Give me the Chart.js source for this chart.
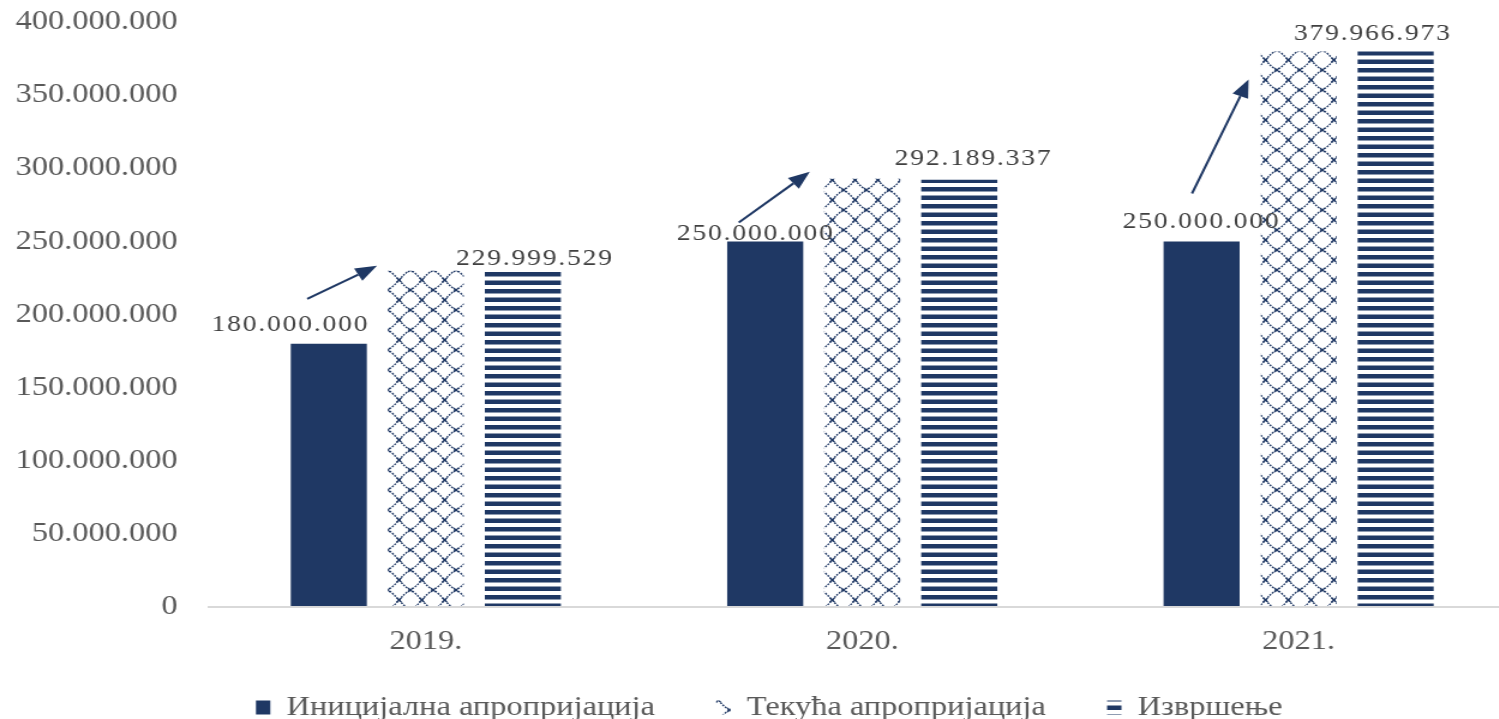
<!DOCTYPE html>
<html>
<head>
<meta charset="utf-8">
<script src="https://cdn.jsdelivr.net/npm/chart.js@4.4.1/dist/chart.umd.min.js"></script>
<style>
  html, body { margin: 0; padding: 0; background: #fff; overflow: hidden; }
  /* the source image is stretched sideways, so the whole chart is too */
  #wrap { position: absolute; left: 0; top: 0; width: 1264px; height: 719px; transform: scaleX(1.2); transform-origin: 0 0; }
</style>
</head>
<body>
<div id="wrap"><canvas id="c"></canvas></div>
<script>
// ---- data ----
const YEARS = ['2019.', '2020.', '2021.'];
const INITIAL = [180000000, 250000000, 250000000];     // Иницијална апропријација
const CURRENT = [230000000, 293000000, 380000000];     // Текућа апропријација
const EXECUTED = [229999529, 292189337, 379966973];    // Извршење
const SERIES = ['Иницијална апропријација', 'Текућа апропријација', 'Извршење'];
const Y_MAX = 400000000;
const Y_STEP = 50000000;

// hand placed bits (px, relative to the bars)
const LABEL_NUDGE_INIT = [[-32, -19], [-8, -8], [0, -20]];
const LABEL_NUDGE_EXEC = [[10, -12], [12, -21], [-19, -18]];
const ARROW_NUDGE = [[-18, -45, -9, -5], [-22, -19, -12, -7], [-8, -48, -10, 28]];

const NAVY = '#1f3864';
const GREY = '#595959';
const SERIF = '"Liberation Serif", "Times New Roman", serif';
const LEGEND_LIFT = 40;
const LEGEND_SHIFT = 9;

const fmt = v => String(v).replace(/\B(?=(\d{3})+(?!\d))/g, '.');

const ctx0 = document.getElementById('c').getContext('2d');

function crossPattern() {
  const w = 19, h = 20;
  const c = document.createElement('canvas');
  c.width = w; c.height = h;
  const x = c.getContext('2d');
  x.fillStyle = '#fff'; x.fillRect(0, 0, w, h);
  x.strokeStyle = NAVY; x.lineWidth = 1.4;
  x.setLineDash([1.8, 1.1]);
  x.beginPath();
  x.moveTo(w / 2, 0);
  x.quadraticCurveTo(w / 2 + 5, h / 2 - 3, w, h / 2);
  x.quadraticCurveTo(w / 2 + 5, h / 2 + 3, w / 2, h);
  x.quadraticCurveTo(w / 2 - 5, h / 2 + 3, 0, h / 2);
  x.quadraticCurveTo(w / 2 - 5, h / 2 - 3, w / 2, 0);
  x.stroke();
  // little crosses where the lattice meets
  x.setLineDash([]);
  x.lineWidth = 1.2;
  [[w / 2, 0], [w / 2, h], [0, h / 2], [w, h / 2]].forEach(([px, py]) => {
    x.beginPath();
    x.moveTo(px - 2, py - 2); x.lineTo(px + 2, py + 2);
    x.moveTo(px + 2, py - 2); x.lineTo(px - 2, py + 2);
    x.stroke();
  });
  return ctx0.createPattern(c, 'repeat');
}

function stripePattern() {
  const c = document.createElement('canvas');
  c.width = 8; c.height = 17;
  const x = c.getContext('2d');
  x.fillStyle = '#fff'; x.fillRect(0, 0, 8, 17);
  x.fillStyle = NAVY;
  x.fillRect(0, 0, 8, 4.5);
  x.fillRect(0, 8.5, 8, 4.5);
  return ctx0.createPattern(c, 'repeat');
}

function drawArrow(ctx, x0, y0, x1, y1) {
  const ang = Math.atan2(y1 - y0, x1 - x0);
  const len = 18, half = 7;
  const bx = x1 - len * Math.cos(ang), by = y1 - len * Math.sin(ang);
  ctx.beginPath();
  ctx.moveTo(x0, y0);
  ctx.lineTo(bx, by);
  ctx.stroke();
  ctx.beginPath();
  ctx.moveTo(x1, y1);
  ctx.lineTo(bx + half * Math.sin(ang), by - half * Math.cos(ang));
  ctx.lineTo(bx - half * Math.sin(ang), by + half * Math.cos(ang));
  ctx.closePath();
  ctx.fill();
}

const barNotes = {
  id: 'barNotes',
  afterLayout(chart) {
    // legend padding is wide for the gaps between items; pull the row back up
    if (chart.legend) {
      chart.legend.top -= LEGEND_LIFT;
      chart.legend.left += LEGEND_SHIFT;
      chart.legend.right += LEGEND_SHIFT;
    }
  },
  afterDatasetsDraw(chart) {
    const ctx = chart.ctx;
    const dark = chart.getDatasetMeta(0).data;
    const cross = chart.getDatasetMeta(1).data;
    const strip = chart.getDatasetMeta(2).data;
    ctx.save();
    ctx.strokeStyle = NAVY;
    ctx.fillStyle = NAVY;
    ctx.lineWidth = 2;
    ARROW_NUDGE.forEach((n, i) => {
      const a = dark[i], b = cross[i];
      drawArrow(ctx, a.x + n[0], a.y + n[1], b.x - b.width / 2 + n[2], b.y + n[3]);
    });
    ctx.font = '23px ' + SERIF;
    ctx.fillStyle = '#404040';
    ctx.textAlign = 'center';
    ctx.textBaseline = 'middle';
    ctx.letterSpacing = '1.5px';
    INITIAL.forEach((v, i) => {
      const b = dark[i], n = LABEL_NUDGE_INIT[i];
      ctx.fillText(fmt(v), b.x + n[0], b.y + n[1]);
    });
    EXECUTED.forEach((v, i) => {
      const b = strip[i], n = LABEL_NUDGE_EXEC[i];
      ctx.fillText(fmt(v), b.x + n[0], b.y + n[1]);
    });
    ctx.restore();
  }
};

new Chart(document.getElementById('c'), {
  type: 'bar',
  data: {
    labels: YEARS,
    datasets: [
      { label: SERIES[0], data: INITIAL, backgroundColor: NAVY, borderWidth: 0 },
      { label: SERIES[1], data: CURRENT, backgroundColor: crossPattern(), borderWidth: 0 },
      { label: SERIES[2], data: EXECUTED, backgroundColor: stripePattern(), borderWidth: 0 }
    ]
  },
  options: {
    responsive: true,
    maintainAspectRatio: false,
    animation: false,
    datasets: { bar: { categoryPercentage: 0.667, barPercentage: 0.784 } },
    layout: { padding: { top: 2, right: 0, bottom: -52, left: 0 } },
    plugins: {
      tooltip: { enabled: false },
      legend: {
        position: 'bottom',
        labels: {
          font: { family: SERIF, size: 27 },
          color: GREY,
          boxWidth: 12,
          boxHeight: 14,
          padding: 51
        }
      }
    },
    scales: {
      x: {
        grid: { display: false, drawTicks: false },
        border: { display: false },
        ticks: { font: { family: SERIF, size: 27 }, color: GREY, padding: 19 },
        afterFit: s => { s.height = 76; }
      },
      y: {
        min: 0,
        max: Y_MAX,
        grid: {
          drawTicks: true,
          tickLength: 19,
          tickColor: 'transparent',
          color: c => c.tick.value === 0 ? '#d9d9d9' : 'transparent',
          lineWidth: 2
        },
        border: { display: false },
        ticks: {
          stepSize: Y_STEP,
          font: { family: SERIF, size: 27 },
          color: GREY,
          padding: 6,
          callback: v => fmt(v)
        },
        afterFit: s => { s.width = 173; }
      }
    }
  },
  plugins: [barNotes]
});
</script>
</body>
</html>
